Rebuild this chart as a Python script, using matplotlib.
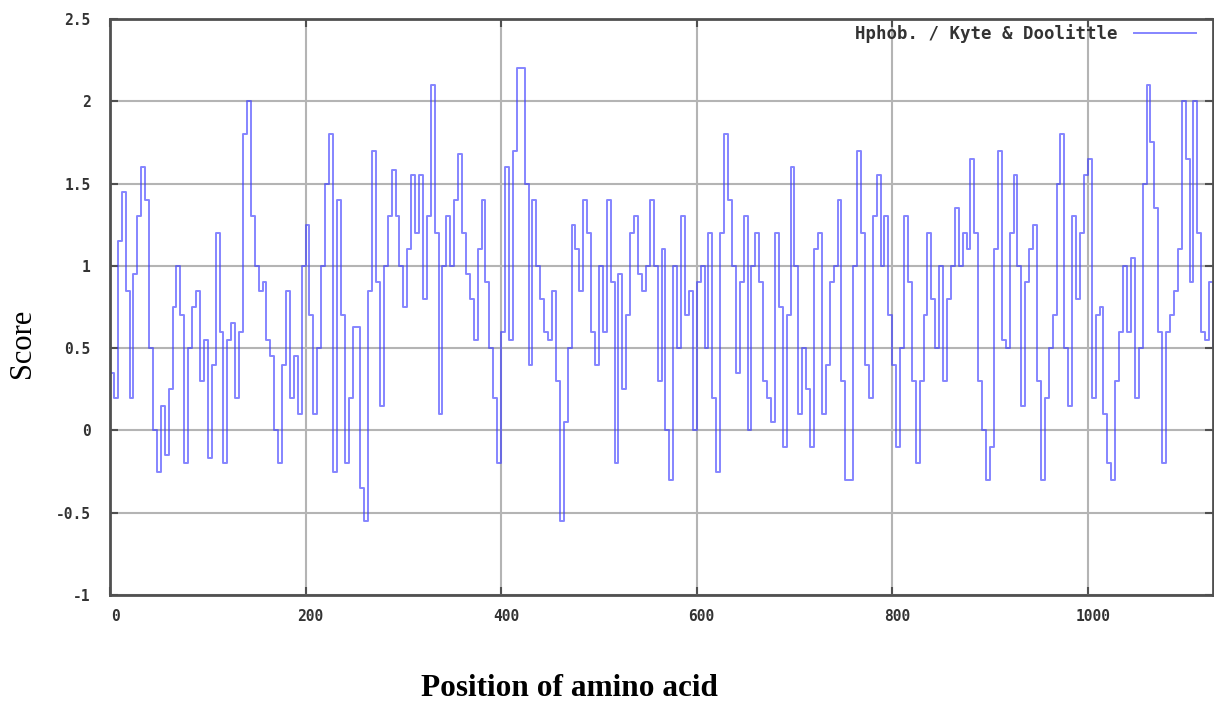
import numpy as np
import matplotlib
matplotlib.use("Agg")
import matplotlib.pyplot as plt
import matplotlib.transforms as mtransforms

score_0_224 = [0.35, 0.2, 1.15, 1.45, 0.85, 0.2, 0.95, 1.3, 1.6, 1.4,
               0.5, 0.0, -0.25, 0.15, -0.15, 0.25, 0.75, 1.0, 0.7, -0.2,
               0.5, 0.75, 0.85, 0.3, 0.55, -0.17, 0.4, 1.2, 0.6, -0.2,
               0.55, 0.65, 0.2, 0.6, 1.8, 2.0, 1.3, 1.0, 0.85, 0.9,
               0.55, 0.45, 0.0, -0.2, 0.4, 0.85, 0.2, 0.45, 0.1, 1.0,
               1.25, 0.7, 0.1, 0.5, 1.0, 1.5, 1.8]
score_228_448 = [-0.25, 1.4, 0.7, -0.2, 0.2, 0.63, 0.63, -0.35, -0.55, 0.85,
                 1.7, 0.9, 0.15, 1.0, 1.3, 1.58, 1.3, 1.0, 0.75, 1.1,
                 1.55, 1.2, 1.55, 0.8, 1.3, 2.1, 1.2, 0.1, 1.0, 1.3,
                 1.0, 1.4, 1.68, 1.2, 0.95, 0.8, 0.55, 1.1, 1.4, 0.9,
                 0.5, 0.2, -0.2, 0.6, 1.6, 0.55, 1.7, 2.2, 2.2, 1.5,
                 0.4, 1.4, 1.0, 0.8, 0.6, 0.55]
score_452_676 = [0.85, 0.3, -0.55, 0.05, 0.5, 1.25, 1.1, 0.85, 1.4, 1.2,
                 0.6, 0.4, 1.0, 0.6, 1.4, 0.9, -0.2, 0.95, 0.25, 0.7,
                 1.2, 1.3, 0.95, 0.85, 1.0, 1.4, 1.0, 0.3, 1.1, 0.0,
                 -0.3, 1.0, 0.5, 1.3, 0.7, 0.85, 0.0, 0.9, 1.0, 0.5,
                 1.2, 0.2, -0.25, 1.2, 1.8, 1.4, 1.0, 0.35, 0.9, 1.3,
                 0.0, 1.0, 1.2, 0.9, 0.3, 0.2, 0.05]
score_680_900 = [1.2, 0.75, -0.1, 0.7, 1.6, 1.0, 0.1, 0.5, 0.25, -0.1,
                 1.1, 1.2, 0.1, 0.4, 0.9, 1.0, 1.4, 0.3, -0.3, -0.3,
                 1.0, 1.7, 1.2, 0.4, 0.2, 1.3, 1.55, 1.0, 1.3, 0.7,
                 0.4, -0.1, 0.5, 1.3, 0.9, 0.3, -0.2, 0.3, 0.7, 1.2,
                 0.8, 0.5, 1.0, 0.3, 0.8, 1.0, 1.35, 1.0, 1.2, 1.1,
                 1.65, 1.2, 0.3, 0.0, -0.3, -0.1]
score_904_1128 = [1.1, 1.7, 0.55, 0.5, 1.2, 1.55, 1.0, 0.15, 0.9, 1.1,
                  1.25, 0.3, -0.3, 0.2, 0.5, 0.7, 1.5, 1.8, 0.5, 0.15,
                  1.3, 0.8, 1.2, 1.55, 1.65, 0.2, 0.7, 0.75, 0.1, -0.2,
                  -0.3, 0.3, 0.6, 1.0, 0.6, 1.05, 0.2, 0.5, 1.5, 2.1,
                  1.75, 1.35, 0.6, -0.2, 0.6, 0.7, 0.85, 1.1, 2.0, 1.65,
                  0.9, 2.0, 1.2, 0.6, 0.55, 0.9, 0.5]
sample_step = 4

x_ticks = [0, 200, 400, 600, 800, 1000]
y_ticks = [-1, -0.5, 0, 0.5, 1, 1.5, 2, 2.5]
y_tick_labels = ["-1", "-0.5", "0", "0.5", "1", "1.5", "2", "2.5"]
legend_label = "Hphob. / Kyte & Doolittle"

score = np.array(score_0_224 + score_228_448 + score_452_676 + score_680_900 + score_904_1128)
position = np.arange(len(score)) * sample_step

W, H = 1214, 702
fig = plt.figure(figsize=(W / 100, H / 100), dpi=100)
ax = fig.add_axes([110 / W, 1 - 595 / H, (1213 - 110) / W, (595 - 19) / H])

line_color = "#3a3aff"
ax.plot(position, score, drawstyle="steps-post", color=line_color, alpha=0.62,
        lw=1.4, label=legend_label)

ax.set_xlim(0, 1128)
ax.set_ylim(-1, 2.5)
ax.set_xticks(x_ticks)
ax.set_xticklabels([str(t) for t in x_ticks])
ax.set_yticks(y_ticks)
ax.set_yticklabels(y_tick_labels)
ax.set_axisbelow(True)
ax.grid(True, color="#b4b4b4", lw=1.5)

for sp in ax.spines.values():
    sp.set_color("#505050")
    sp.set_linewidth(2)

ax.tick_params(direction="in", length=6, width=1.5, color="#505050",
               top=True, right=True, pad=10)
for lab in ax.get_xticklabels() + ax.get_yticklabels():
    lab.set_fontfamily("DejaVu Sans Mono")
    lab.set_fontweight("bold")
    lab.set_fontsize(10.5)
    lab.set_color("#333333")
offset = mtransforms.ScaledTranslation(5 / 100, 0, fig.dpi_scale_trans)
for lab in ax.get_xticklabels():
    lab.set_transform(lab.get_transform() + offset)
ax.tick_params(axis="y", pad=14)

ax.set_xlabel("Position of amino acid", family="Liberation Serif", weight="bold",
              size=22.5, va="center")
ax.xaxis.set_label_coords((569 - 110) / 1103, (595 - 688) / 576)
ax.set_ylabel("Score", family="Liberation Serif", size=22, va="center")
ax.yaxis.set_label_coords((22 - 110) / 1103, (595 - 343) / 576)

leg = ax.legend(loc="upper right", bbox_to_anchor=(1196 / W, 1 - 24 / H),
                bbox_transform=fig.transFigure, frameon=False, markerfirst=False,
                borderpad=0, borderaxespad=0, handlelength=3.6, handletextpad=0.95,
                prop=dict(family="DejaVu Sans Mono", weight="bold", size=12.5))
for t in leg.get_texts():
    t.set_color("#333333")

fig.savefig("out.png", dpi=100)
